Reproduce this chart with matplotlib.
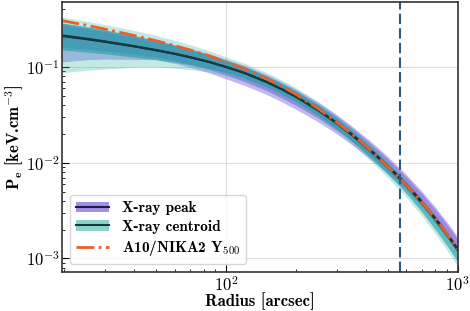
import numpy as np
import matplotlib
matplotlib.use("Agg")
import matplotlib.pyplot as plt
from matplotlib.patches import Patch
from matplotlib.lines import Line2D
from matplotlib.ticker import FuncFormatter

plt.rcParams['font.family'] = ['cmb10', 'DejaVu Serif']
plt.rcParams['mathtext.fontset'] = 'cm'
plt.rcParams['axes.unicode_minus'] = False

# radius in arcsec
radius = [19.5, 25, 30, 40, 50, 60, 70, 85, 100, 120, 150, 175, 200, 250, 300,
          350, 400, 450, 500, 550, 600, 700, 800, 900, 1000]

# median pressure profiles [keV cm^-3]
pe_centroid = [0.2138, 0.1972, 0.1849, 0.1652, 0.1500, 0.1374, 0.1265, 0.1125,
               0.1000, 0.0865, 0.0693, 0.0579, 0.0488, 0.0351, 0.0258, 0.0193,
               0.0147, 0.01143, 0.00899, 0.00718, 0.00577, 0.00380, 0.00255,
               0.00175, 0.00122]
pe_peak = [0.211, 0.195, 0.183, 0.164, 0.149, 0.137, 0.126, 0.1122, 0.1000,
           0.0866, 0.0696, 0.0583, 0.0492, 0.0355, 0.0262, 0.0197, 0.0150,
           0.01170, 0.00922, 0.00738, 0.00594, 0.00392, 0.00264, 0.00181,
           0.00126]
pe_a10 = [0.3048, 0.2723, 0.2483, 0.2133, 0.1875, 0.1671, 0.1503, 0.1300,
          0.1127, 0.0957, 0.0752, 0.0621, 0.0518, 0.0366, 0.0265, 0.0198,
          0.0150, 0.01159, 0.00910, 0.00726, 0.00585, 0.00387, 0.00261,
          0.00180, 0.00126]

# band edges, in dex above (+) / below (-) the centroid median
cen_out_hi = [.192, .183, .175, .164, .152, .140, .130, .117, .105, .102, .100,
              .098, .096, .092, .087, .082, .076, .070, .065, .060, .057, .052,
              .047, .043, .040]
cen_out_lo = [-.393, -.33, -.29, -.22, -.176, -.15, -.13, -.105, -.09, -.08,
              -.07, -.072, -.075, -.08, -.085, -.09, -.10, -.11, -.115, -.12,
              -.125, -.135, -.15, -.16, -.17]
cen_in_hi = [.13, .125, .12, .11, .10, .09, .082, .076, .07, .066, .062, .06,
             .058, .055, .05, .047, .044, .04, .037, .034, .032, .03, .028,
             .026, .025]
cen_in_lo = [-.152, -.14, -.13, -.115, -.10, -.09, -.08, -.07, -.06, -.055,
             -.05, -.05, -.05, -.055, -.06, -.065, -.07, -.075, -.078, -.08,
             -.085, -.095, -.105, -.113, -.12]
peak_out_hi = [.13, .122, .116, .107, .10, .094, .09, .085, .08, .08, .08, .08,
               .08, .085, .09, .095, .10, .105, .108, .11, .115, .122, .13,
               .135, .14]
peak_out_lo = [-.278, -.22, -.185, -.14, -.10, -.10, -.105, -.115, -.125, -.13,
               -.13, -.13, -.13, -.12, -.11, -.10, -.09, -.08, -.07, -.06,
               -.055, -.045, -.04, -.035, -.03]
peak_in_hi = [.11, .105, .10, .092, .085, .08, .075, .07, .065, .064, .063,
              .063, .063, .066, .07, .074, .078, .082, .085, .088, .092, .098,
              .105, .11, .115]
peak_in_lo = [-.12, -.11, -.10, -.085, -.07, -.07, -.075, -.08, -.085, -.09,
              -.09, -.09, -.09, -.08, -.07, -.06, -.05, -.045, -.04, -.035,
              -.03, -.025, -.02, -.015, -.01]

theta_500 = 562

purple = '#7e62dc'
teal = '#1c9fa4'
teal_light = '#3cb8aa'
c_peak = '#1c1c4c'
c_cen = '#173a3a'
c_a10 = '#e8602c'

med = np.array(pe_centroid)


def edge(dex):
    return med * 10.0 ** np.array(dex)


def log_label(v, pos):
    return r'$\mathbf{10^{%d}}$' % round(np.log10(v))


fig = plt.figure(figsize=(4.7, 3.11), dpi=100)
ax = fig.add_axes([0.132, 0.125, 0.842, 0.869])

ax.fill_between(radius, edge(peak_out_lo), edge(peak_out_hi), color=purple, alpha=0.45, lw=0)
ax.fill_between(radius, edge(peak_in_lo), edge(peak_in_hi), color=purple, alpha=0.55, lw=0)
ax.fill_between(radius, edge(cen_out_lo), edge(cen_out_hi), color=teal_light, alpha=0.3, lw=0)
ax.fill_between(radius, edge(cen_in_lo), edge(cen_in_hi), color=teal, alpha=0.6, lw=0)

ax.plot(radius, pe_peak, color=c_peak, lw=1.5)
ax.plot(radius, pe_centroid, color=c_cen, lw=1.5)
ax.plot(radius, pe_a10, color=c_a10, lw=2, ls='-.')

ax.axvline(theta_500, color='#2f5a80', lw=1.5, ls=(0, (5, 2)))

ax.set_xscale('log')
ax.set_yscale('log')
ax.set_xlim(19.6, 1000)
ax.set_ylim(7.2e-4, 0.478)
ax.xaxis.set_major_formatter(FuncFormatter(log_label))
ax.yaxis.set_major_formatter(FuncFormatter(log_label))
ax.grid(True, which='major', color='#dddddd', lw=0.8)
ax.set_axisbelow(True)
ax.tick_params(which='both', direction='in', labelsize=12, pad=2)
ax.tick_params(which='major', length=5)
ax.tick_params(which='minor', length=2.5)
for s in ax.spines.values():
    s.set_color('#333333')
    s.set_linewidth(1.2)

ax.set_xlabel('Radius [arcsec]', fontsize=12, labelpad=-1)
ax.set_ylabel(r'P$_\mathbf{e}$ [keV.cm$^{\mathbf{-3}}$]', fontsize=12, labelpad=0)

h_peak = (Patch(facecolor=purple, alpha=0.7), Line2D([], [], color=c_peak, lw=1.5))
h_cen = (Patch(facecolor=teal_light, alpha=0.6), Line2D([], [], color=c_cen, lw=1.5))
h_a10 = Line2D([], [], color=c_a10, lw=2, ls='-.')
ax.legend([h_peak, h_cen, h_a10],
          ['X-ray peak', 'X-ray centroid', r'A10/NIKA2 Y$_{\mathbf{500}}$'],
          loc='lower left', fontsize=11, handlelength=2.2, labelspacing=0.3,
          borderaxespad=0.5)

fig.savefig('out.png', dpi=100)
